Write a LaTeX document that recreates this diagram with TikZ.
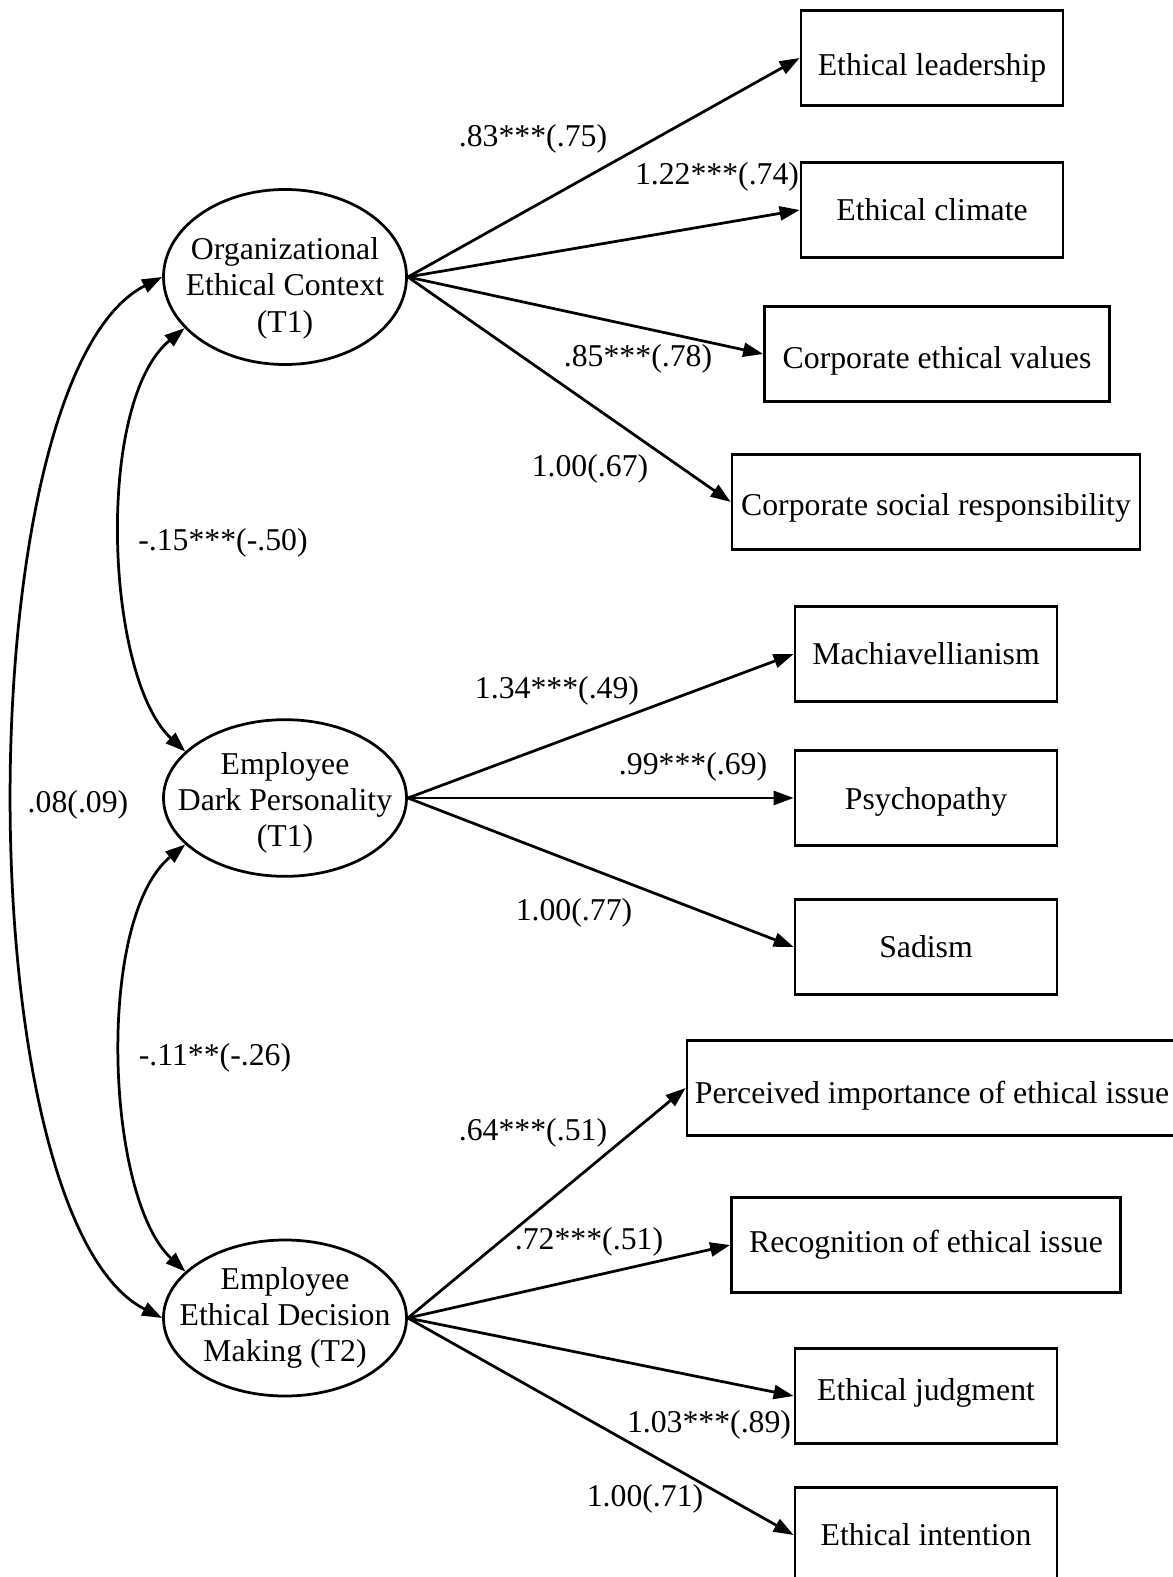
\documentclass[tikz,border=0pt]{standalone}
\usepackage{fontspec}
\setmainfont{Liberation Serif}
\usetikzlibrary{shapes, arrows.meta}

\begin{document}
\begin{tikzpicture}[
      x=0.4pt, y=-0.4pt,
      font=\fontsize{12.7}{14.5}\selectfont,
      latent/.style={ellipse, draw, line width=1.1pt, inner xsep=-12pt, inner ysep=0pt, minimum width=97.2pt, minimum height=62.4pt, align=center},
      box/.style={rectangle, draw, line width=1.1pt, inner sep=0pt, minimum height=38pt},
      arrow/.style={line width=1.1pt, -{Triangle[length=8pt,width=5.6pt]}},
      covar/.style={line width=1.1pt, {Triangle[length=8pt,width=5.6pt]}-{Triangle[length=8pt,width=5.6pt]}},
      coef/.style={inner sep=0pt}
    ]
      \useasboundingbox (0,0) rectangle (1172,1577);

      % latent variables
      \node (org) [latent] at (285,277) {\rule{0pt}{17.8pt}Organizational\\Ethical Context\\(T1)};
      \node (dark) [latent] at (285,798) {\rule{0pt}{12.6pt}Employee\\Dark Personality\\(T1)};
      \node (edm) [latent] at (285,1318) {Employee\\Ethical Decision\\Making (T2)};

      % indicators
      \node (lead) [box, minimum width=104.8pt, text height=16.6pt] at (932,58) {Ethical leadership};
      \node (climate) [box, minimum width=104.8pt] at (932,210) {Ethical climate};
      \node (values) [box, minimum width=138pt, text height=14.2pt] at (937,354) {Corporate ethical values};
      \node (csr) [box, minimum width=163.2pt, text height=13.4pt] at (936,502) {Corporate social responsibility};
      \node (mach) [box, minimum width=104.8pt] at (926,654) {Machiavellianism};
      \node (psych) [box, minimum width=104.8pt, text height=11.8pt] at (926,798) {Psychopathy};
      \node (sadism) [box, minimum width=104.8pt] at (926,947) {Sadism};
      \node (import) [box, minimum width=196pt, text height=15pt] at (932,1088) {Perceived importance of ethical issue};
      \node (recog) [box, minimum width=155.6pt] at (926,1245) {Recognition of ethical issue};
      \node (judg) [box, minimum width=104.8pt, text height=6.2pt] at (926,1396) {Ethical judgment};
      \node (intent) [box, minimum width=104.8pt] at (926,1535) {Ethical intention};

      % loadings
      \draw [arrow] (org.east) -- (lead.west);
      \draw [arrow] (org.east) -- (climate.west);
      \draw [arrow] (org.east) -- (values.west);
      \draw [arrow] (org.east) -- (csr.west);
      \draw [arrow] (dark.east) -- (mach.west);
      \draw [arrow] (dark.east) -- (psych.west);
      \draw [arrow] (dark.east) -- (sadism.west);
      \draw [arrow] (edm.east) -- (import.west);
      \draw [arrow] (edm.east) -- (recog.west);
      \draw [arrow] (edm.east) -- (judg.west);
      \draw [arrow] (edm.east) -- (intent.west);

      % covariances
      \draw [covar] (org.207) .. controls +(-90,74) and +(-80,-74) .. (dark.155);
      \draw [covar] (dark.205) .. controls +(-90,74) and +(-80,-74) .. (edm.155);
      \draw [covar] (org.west) .. controls +(-197,100) and +(-197,-100) .. (edm.west);

      % estimates
      \node (c1) [coef] at (533,139) {.83***(.75)};
      \node (c2) [coef] at (717,177) {1.22***(.74)};
      \node (c3) [coef] at (638,359) {.85***(.78)};
      \node (c4) [coef] at (590,469) {1.00(.67)};
      \node (c5) [coef] at (223,543) {-.15***(-.50)};
      \node (c6) [coef] at (557,691) {1.34***(.49)};
      \node (c7) [coef] at (693,767) {.99***(.69)};
      \node (c8) [coef] at (78,805) {.08(.09)};
      \node (c9) [coef] at (574,913) {1.00(.77)};
      \node (c10) [coef] at (215,1058) {-.11**(-.26)};
      \node (c11) [coef] at (533,1133) {.64***(.51)};
      \node (c12) [coef] at (589,1242) {.72***(.51)};
      \node (c13) [coef] at (709,1425) {1.03***(.89)};
      \node (c14) [coef] at (645,1499) {1.00(.71)};
    \end{tikzpicture}
\end{document}
